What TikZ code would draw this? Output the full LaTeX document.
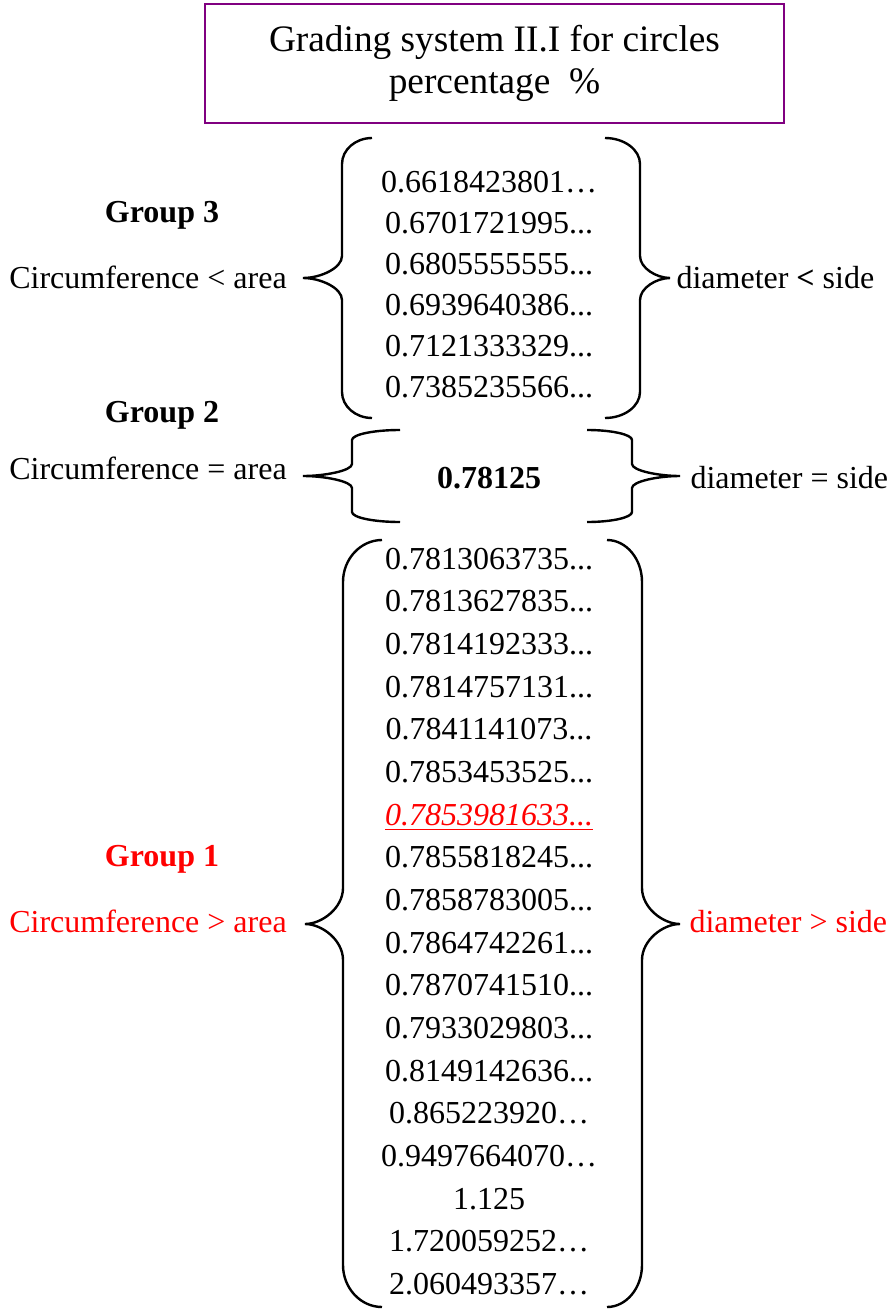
\documentclass[tikz,border=0pt]{standalone}
\usepackage{fontspec}
\setmainfont{Liberation Serif}
\definecolor{boxpurple}{RGB}{128,0,128}
\usetikzlibrary{positioning,chains}
\tikzset{
	titlebox/.style={
		rectangle,
		draw=boxpurple, line width=0.8pt,
		minimum width=217pt,
		minimum height=44.6pt,
		align=center,
		font=\fontsize{14}{15.75}\selectfont},
	numline/.style={
		inner sep=0pt,
		outer sep=0pt,
		text height=9pt,
		text depth=3pt,
		on chain},
	grouplabel/.style={font=\fontsize{12}{14}\selectfont\bfseries, anchor=base, inner sep=0pt},
	relation/.style={anchor=base, inner sep=0pt},
	bracket/.style={draw, line width=0.9pt},
}
% #1 x end, #2 x spine, #3 x tip, #4 y top, #5 y tip, #6 y bottom, #7 end curl, #8 tip curl
\newcommand*\curly[8]{
	\draw[bracket] (#1,#4) .. controls (#1+0.55*#2-0.55*#1,#4) and (#2,#4+0.45*#7) .. (#2,#4+#7)
	-- (#2,#5-#8) .. controls (#2,#5-0.45*#8) and (#2+0.55*#3-0.55*#2,#5) .. (#3,#5)
	.. controls (#2+0.55*#3-0.55*#2,#5) and (#2,#5+0.45*#8) .. (#2,#5+#8)
	-- (#2,#6-#7) .. controls (#2,#6-0.45*#7) and (#1+0.55*#2-0.55*#1,#6) .. (#1,#6);}

\begin{document}
\begin{tikzpicture}[x=0.375pt, y=-0.375pt, font=\fontsize{12}{14}\selectfont]
\useasboundingbox (0,0) rectangle (891,1309);

\node[titlebox] (title) at (494.5,63.5) {Grading system II.I for circles\\percentage\ \ \%};

% group 3
\node[grouplabel] (grp3) at (162,222) {Group 3};
\node[relation] (circ3) at (148,288) {Circumference < area};
\begin{scope}[start chain=g3 going below, node distance=3.4pt]
\node[numline] at (489,184) {0.6618423801…};
\node[numline] {0.6701721995...};
\node[numline] {0.6805555555...};
\node[numline] {0.6939640386...};
\node[numline] {0.7121333329...};
\node[numline] {0.7385235566...};
\end{scope}
\curly{372}{342}{303}{138}{278}{418}{26}{22}
\curly{605}{640}{670}{138}{278}{418}{26}{22}
\node[relation, anchor=base west] (diam3) at (676,288) {diameter \textbf{<} side};

% group 2
\node[grouplabel] (grp2) at (162,422) {Group 2};
\node[relation] (circ2) at (148,479) {Circumference = area};
\node[grouplabel] (g2num) at (489,488) {0.78125};
\curly{400}{352}{303}{430}{476}{522}{10}{12}
\curly{587}{632}{680}{430}{476}{522}{10}{12}
\node[relation, anchor=base west] (diam2) at (690,488) {diameter = side};

% group 1
\node[grouplabel, text=red] (grp1) at (162,866) {Group 1};
\node[relation, text=red] (circ1) at (148,932) {Circumference > area};
\begin{scope}[start chain=g1 going below, node distance=4pt]
\node[numline] at (489,561) {0.7813063735...};
\node[numline] {0.7813627835...};
\node[numline] {0.7814192333...};
\node[numline] {0.7814757131...};
\node[numline] {0.7841141073...};
\node[numline] {0.7853453525...};
\node[numline, text=red] {\underline{\textit{0.7853981633...}}};
\node[numline] {0.7855818245...};
\node[numline] {0.7858783005...};
\node[numline] {0.7864742261...};
\node[numline] {0.7870741510...};
\node[numline] {0.7933029803...};
\node[numline] {0.8149142636...};
\node[numline] {0.865223920…};
\node[numline] {0.9497664070…};
\node[numline] {1.125};
\node[numline] {1.720059252…};
\node[numline] {2.060493357…};
\end{scope}
\curly{382}{343}{305}{540}{924}{1307}{42}{36}
\curly{607}{642}{680}{540}{924}{1307}{42}{36}
\node[relation, anchor=base west, text=red] (diam1) at (689,932) {diameter > side};
\end{tikzpicture}
\end{document}
